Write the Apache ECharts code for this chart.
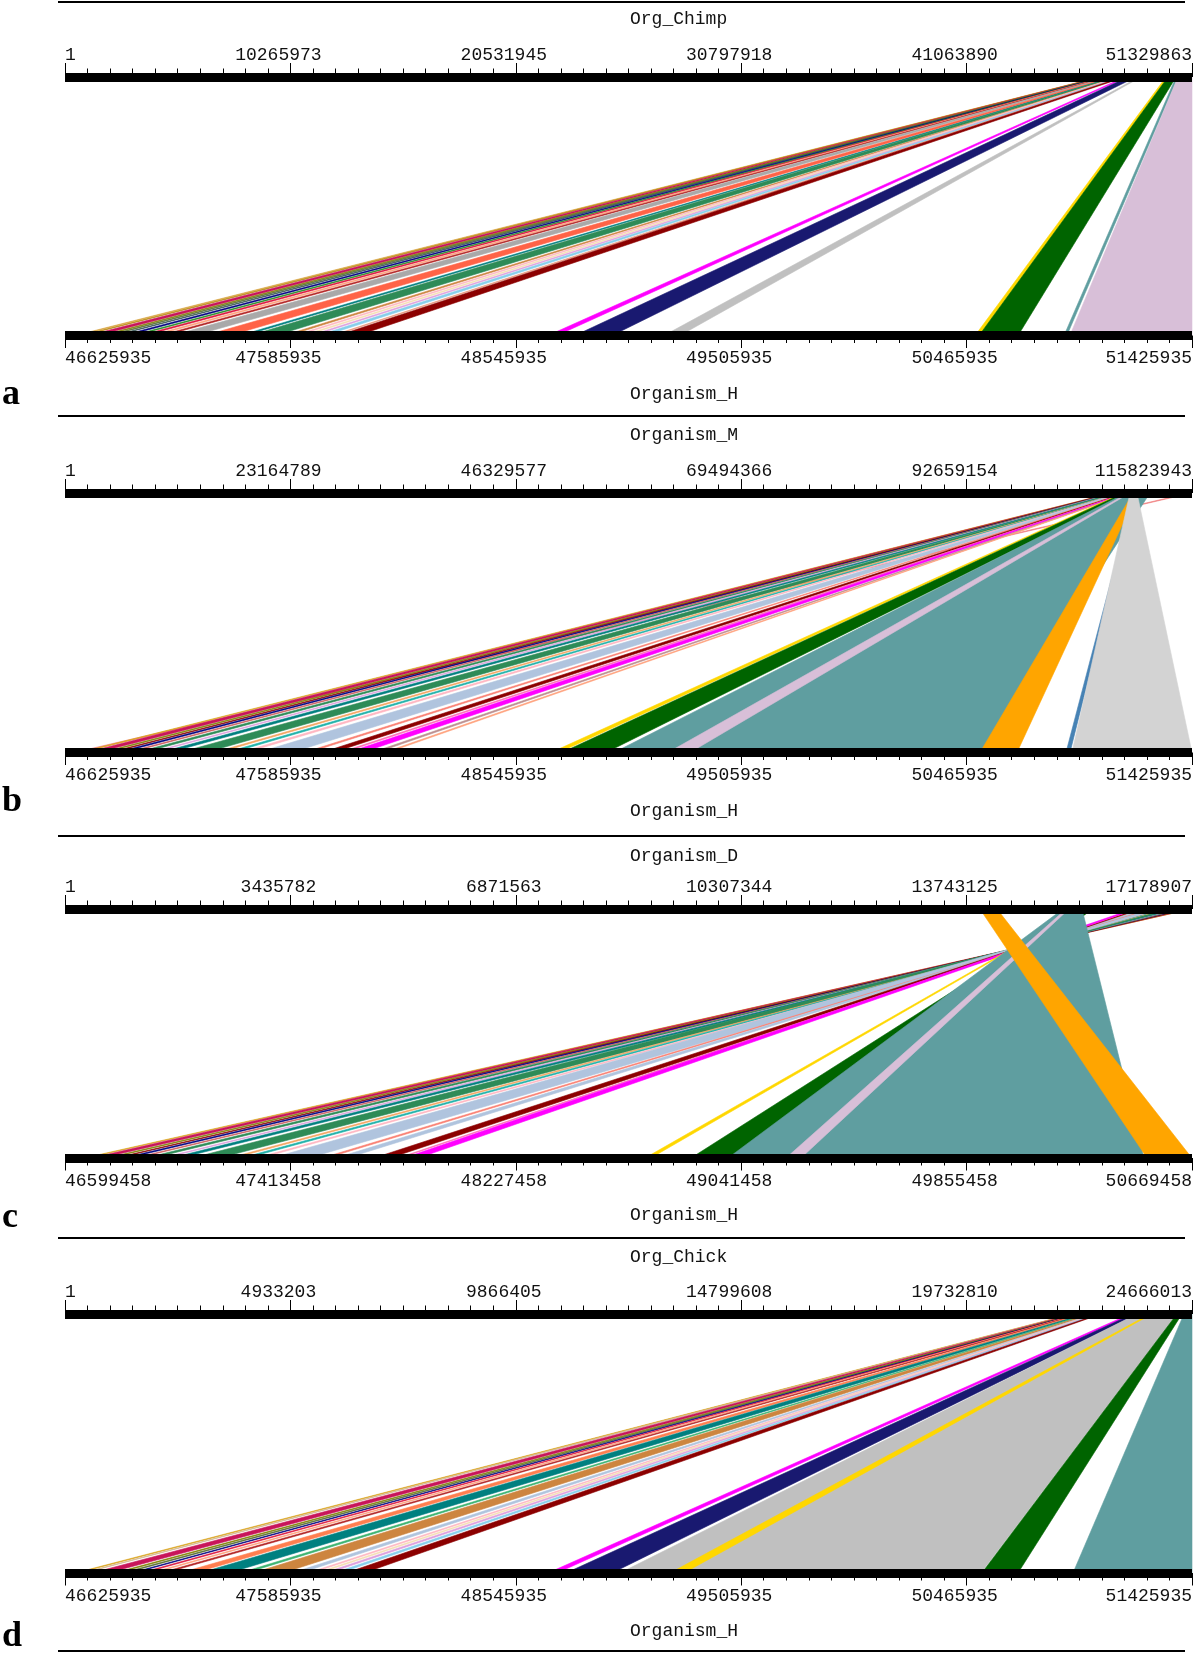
<!DOCTYPE html>
<html>
<head>
<meta charset="utf-8">
<title>Synteny comparison</title>
<script src="https://cdn.jsdelivr.net/npm/echarts@6.0.0/dist/echarts.min.js"></script>
<style>
html,body{margin:0;padding:0;background:#fff;}
#chart{width:1200px;height:1654px;}
</style>
</head>
<body>
<div id="chart"></div>
<script>
// ---------------- DATA ----------------
const panelLetters = ['a', 'b', 'c', 'd'];
const topNames = ['Org_Chimp', 'Organism_M', 'Organism_D', 'Org_Chick'];
const bottomNames = ['Organism_H', 'Organism_H', 'Organism_H', 'Organism_H'];
const topStart = [1, 1, 1, 1];
const topEnd = [51329863, 115823943, 17178907, 24666013];
const bottomStart = [46625935, 46625935, 46599458, 46625935];
const bottomEnd = [51425935, 51425935, 50669458, 51425935];
const topTickLabels = [
  ['1', '10265973', '20531945', '30797918', '41063890', '51329863'],
  ['1', '23164789', '46329577', '69494366', '92659154', '115823943'],
  ['1', '3435782', '6871563', '10307344', '13743125', '17178907'],
  ['1', '4933203', '9866405', '14799608', '19732810', '24666013']
];
const bottomTickLabels = [
  ['46625935', '47585935', '48545935', '49505935', '50465935', '51425935'],
  ['46625935', '47585935', '48545935', '49505935', '50465935', '51425935'],
  ['46599458', '47413458', '48227458', '49041458', '49855458', '50669458'],
  ['46625935', '47585935', '48545935', '49505935', '50465935', '51425935']
];

// Links (Mb): [topStart, topEnd, bottomStart, bottomEnd]
const linksA = [
  [47.117, 47.163, 46.6685, 46.6813],
  [47.140, 47.186, 46.6940, 46.7043],
  [47.163, 47.254, 46.7239, 46.7648],
  [47.222, 47.268, 46.7792, 46.7920],
  [47.250, 47.295, 46.8048, 46.8176],
  [47.277, 47.323, 46.8346, 46.8448],
  [47.300, 47.368, 46.8687, 46.8891],
  [47.350, 47.396, 46.9112, 46.9266],
  [47.386, 47.432, 46.9453, 46.9658],
  [47.427, 47.473, 46.9879, 47.0084],
  [47.468, 47.514, 47.0305, 47.0510],
  [47.523, 47.637, 47.0816, 47.1770],
  [47.659, 47.773, 47.2222, 47.3278],
  [47.791, 47.837, 47.3712, 47.3917],
  [47.841, 47.955, 47.4138, 47.5228],
  [47.969, 48.015, 47.5586, 47.5791],
  [48.005, 48.051, 47.6012, 47.6166],
  [48.037, 48.083, 47.6353, 47.6506],
  [48.069, 48.115, 47.6694, 47.6847],
  [48.106, 48.174, 47.7034, 47.7341],
  [48.164, 48.210, 47.7631, 47.7733],
  [48.187, 48.278, 47.7886, 47.8738],
  [48.278, 48.369, 48.6830, 48.7213],
  [48.415, 48.780, 48.7980, 48.9560],
  [48.916, 49.008, 49.1770, 49.2450],
  [50.146, 50.237, 50.5020, 50.5190],
  [50.237, 50.602, 50.5190, 50.6850],
  [50.602, 50.693, 50.8810, 50.8930],
  [50.693, 51.329, 50.9060, 51.4259]
];
const colorsA = ['#d9a441', '#b8860b', '#c8155a', '#808000', '#556b2f', '#2f4f4f', '#000080', '#228b22',
  '#dc143c', '#ffa07a', '#b22222', '#a9a9a9', '#ff6347', '#008080', '#2e8b57', '#cd853f', '#ffb6c1',
  '#f5deb3', '#dda0dd', '#87ceeb', '#e9967a', '#8b0000', '#ff00ff', '#191970', '#c0c0c0', '#ffd700',
  '#006400', '#5f9ea0', '#d8bfd8'];

const linksB = [
  [115.50, 115.80, 46.6642, 46.6813],
  [107.561, 107.664, 46.6855, 46.6983],
  [107.577, 107.782, 46.7153, 46.7631],
  [107.694, 107.797, 46.7792, 46.7946],
  [107.736, 107.839, 46.8133, 46.8261],
  [107.787, 107.890, 46.8431, 46.8636],
  [107.839, 107.941, 46.8857, 46.9010],
  [107.911, 108.034, 46.9283, 46.9590],
  [107.983, 108.086, 46.9879, 47.0033],
  [108.065, 108.188, 47.0305, 47.0688],
  [108.168, 108.414, 47.1157, 47.2247],
  [108.373, 108.476, 47.2605, 47.2810],
  [108.445, 108.568, 47.3116, 47.3372],
  [108.538, 108.640, 47.3712, 47.3968],
  [108.630, 108.938, 47.4479, 47.5910],
  [108.907, 109.010, 47.6438, 47.6643],
  [108.999, 109.164, 47.7205, 47.7682],
  [109.123, 109.225, 47.7971, 47.8125],
  [109.154, 109.360, 47.8312, 47.8926],
  [109.319, 109.422, 47.9334, 47.9539],
  [109.381, 109.483, 47.9845, 47.9999],
  [108.733, 108.835, 48.6958, 48.7298],
  [108.835, 109.247, 48.7426, 48.9300],
  [109.041, 111.508, 48.9641, 50.5271],
  [109.247, 109.452, 49.1941, 49.2878],
  [109.761, 110.172, 50.5229, 50.6805],
  [109.864, 109.966, 50.8892, 50.9062],
  [109.452, 110.172, 50.9147, 51.4259]
];
const colorsB = ['#f08080', '#daa520', '#c8155a', '#808000', '#8b0000', '#000080', '#cd5c5c', '#2e8b57',
  '#dda0dd', '#008080', '#2e8b57', '#f4a460', '#20b2aa', '#ffb6c1', '#b0c4de', '#fa8072', '#8b0000',
  '#ff69b4', '#ff00ff', '#bc8f8f', '#ffa07a', '#ffd700', '#006400', '#5f9ea0', '#d8bfd8', '#ffa500',
  '#4682b4', '#d3d3d3'];

const linksC = [
  [17.1656, 17.1780, 46.6681, 46.6790],
  [17.1257, 17.1603, 46.6934, 46.7309],
  [17.1043, 17.1203, 46.7476, 46.7606],
  [17.0830, 17.0964, 46.7801, 46.7909],
  [17.0537, 17.0750, 46.8090, 46.8263],
  [17.0298, 17.0458, 46.8487, 46.8617],
  [16.9819, 17.0165, 46.8884, 46.9166],
  [16.9580, 16.9740, 46.9462, 46.9592],
  [16.9074, 16.9473, 46.9823, 47.0148],
  [16.8010, 16.8914, 47.0581, 47.1563],
  [16.7717, 16.7929, 47.1918, 47.2091],
  [16.7344, 16.7610, 47.2351, 47.2568],
  [16.6998, 16.7211, 47.2893, 47.3066],
  [16.5560, 16.6786, 47.3471, 47.4800],
  [16.5242, 16.5455, 47.5276, 47.5449],
  [16.4710, 16.5082, 47.5782, 47.6186],
  [16.3538, 16.4071, 47.7154, 47.7732],
  [16.3326, 16.3432, 47.8021, 47.8107],
  [16.2792, 16.3272, 47.8238, 47.8758],
  [15.5021, 15.6698, 48.8602, 49.0300],
  [15.4870, 15.5021, 48.6941, 48.7150],
  [15.2125, 15.5021, 48.9939, 50.4962],
  [15.2582, 15.3039, 49.2033, 49.2575],
  [13.9473, 14.2065, 50.5070, 50.6690]
];
const colorsC = ['#daa520', '#c8155a', '#808000', '#8b0000', '#000080', '#cd5c5c', '#2e8b57', '#dda0dd',
  '#008080', '#2e8b57', '#f4a460', '#20b2aa', '#ffb6c1', '#b0c4de', '#fa8072', '#b0c4de', '#8b0000',
  '#ff69b4', '#ff00ff', '#006400', '#ffd700', '#5f9ea0', '#d8bfd8', '#ffa500'];

const linksD = [
  [22.0294, 22.0512, 46.6685, 46.6813],
  [22.0436, 22.0655, 46.6983, 46.7085],
  [22.0720, 22.1158, 46.7409, 46.8091],
  [22.1158, 22.1377, 46.8346, 46.8499],
  [22.1355, 22.1574, 46.8687, 46.8840],
  [22.1530, 22.1749, 46.9070, 46.9198],
  [22.1749, 22.1968, 46.9453, 46.9607],
  [22.1968, 22.2187, 46.9879, 47.0033],
  [22.2208, 22.2427, 47.0305, 47.0510],
  [22.2646, 22.3084, 47.1157, 47.1770],
  [22.3237, 22.3806, 47.2009, 47.3235],
  [22.4003, 22.4222, 47.3712, 47.3968],
  [22.4441, 22.4966, 47.4266, 47.5527],
  [22.5141, 22.5447, 47.5927, 47.6285],
  [22.5469, 22.5688, 47.6608, 47.6762],
  [22.5644, 22.5863, 47.6949, 47.7103],
  [22.5841, 22.6060, 47.7290, 47.7495],
  [22.6038, 22.6345, 47.7716, 47.7972],
  [22.6323, 22.6760, 47.8227, 47.8993],
  [23.3086, 23.3742, 48.6830, 48.7213],
  [23.3742, 23.4618, 48.7597, 48.9556],
  [23.4618, 24.3372, 48.9896, 50.5271],
  [23.7463, 23.7901, 49.2026, 49.2622],
  [24.3372, 24.4466, 50.5310, 50.6847],
  [24.4904, 24.6660, 50.9190, 51.4259]
];
const colorsD = ['#daa520', '#d2b48c', '#c8155a', '#808000', '#556b2f', '#000080', '#dc143c', '#ffa07a',
  '#b22222', '#ff7f50', '#008080', '#3cb371', '#cd853f', '#b0c4de', '#ffb6c1', '#f5deb3', '#dda0dd',
  '#87ceeb', '#8b0000', '#ff00ff', '#191970', '#c0c0c0', '#ffd700', '#006400', '#5f9ea0'];

const panelLinks = [linksA, linksB, linksC, linksD];
const panelColors = [colorsA, colorsB, colorsC, colorsD];

// ---------------- LAYOUT ----------------
const LAYOUT = [
  { sep: 2,    title: 19,   top: 77,   bottom: 335.5, btitle: 394,  letter: 395 },
  { sep: 416,  title: 435,  top: 493,  bottom: 752.5, btitle: 811,  letter: 802 },
  { sep: 836,  title: 856,  top: 909,  bottom: 1158,  btitle: 1215, letter: 1218 },
  { sep: 1238, title: 1257, top: 1314, bottom: 1573,  btitle: 1631, letter: 1637 }
];
const LAST_SEP = 1651;
const AX_LEFT = 65, AX_RIGHT = 8;
const MONO = 'Liberation Mono';
const FS = 18;
const MB = 1e6;

const chart = echarts.init(document.getElementById('chart'), null, { renderer: 'canvas' });

function topPixel(p, v, params) {
  let px;
  try { px = chart.convertToPixel({ xAxisIndex: 2 * p }, v); } catch (e) { px = undefined; }
  if (typeof px !== 'number' || !isFinite(px)) {
    const cs = params.coordSys;
    px = cs.x + cs.width * v / (topEnd[p] - topStart[p]);
  }
  return px;
}

function makeRenderItem(p) {
  return function (params, api) {
    const yTop = api.coord([0, 1])[1];
    const yBot = api.coord([0, 0])[1];
    const xb1 = api.coord([api.value(2), 0])[0];
    const xb2 = api.coord([api.value(3), 0])[0];
    const xt1 = topPixel(p, api.value(0), params);
    const xt2 = topPixel(p, api.value(1), params);
    const c = panelColors[p][params.dataIndex];
    return {
      type: 'polygon',
      shape: { points: [[xt1, yTop], [xt2, yTop], [xb2, yBot], [xb1, yBot]] },
      style: { fill: c, stroke: c, lineWidth: 0.6 },
      silent: true
    };
  };
}

function labelFormatter(labels, interval) {
  return function (v) {
    const i = Math.round(v / interval);
    const t = labels[i];
    return (i === 0 || i === labels.length - 1) ? '{e|' + t + '}' : '{m|' + t + '}';
  };
}
const labelRich = {
  m: { fontFamily: MONO, fontSize: FS, color: '#111', padding: [0, 24, 0, 0] },
  e: { fontFamily: MONO, fontSize: FS, color: '#111' }
};

const grids = [], xAxes = [], yAxes = [], series = [], graphics = [];

for (let p = 0; p < 4; p++) {
  const L = LAYOUT[p];
  grids.push({ left: AX_LEFT, right: AX_RIGHT, top: L.top, height: L.bottom - L.top,
    containLabel: false, outerBoundsMode: 'none', show: false });

  const topRange = topEnd[p] - topStart[p];
  const topInt = topRange / 5;
  const botRange = bottomEnd[p] - bottomStart[p];
  const botInt = botRange / 5;

  const common = {
    gridIndex: p, type: 'value', z: 10, silent: true,
    splitLine: { show: false }, minorSplitLine: { show: false },
    axisPointer: { show: false }
  };
  xAxes.push(Object.assign({}, common, {
    position: 'top', min: 0, max: topRange, interval: topInt,
    axisLine: { show: true, onZero: false, lineStyle: { color: '#000', width: 9, cap: 'butt' } },
    axisTick: { show: true, inside: false, length: 14, lineStyle: { color: '#000', width: 1 } },
    minorTick: { show: true, splitNumber: 10, length: 8.5, lineStyle: { color: '#000', width: 1 } },
    axisLabel: {
      show: true, margin: 13, fontFamily: MONO, fontSize: FS, color: '#111',
      showMinLabel: true, showMaxLabel: true, alignMinLabel: 'left', alignMaxLabel: 'right',
      formatter: labelFormatter(topTickLabels[p], topInt), rich: labelRich
    }
  }));
  xAxes.push(Object.assign({}, common, {
    position: 'bottom', min: 0, max: botRange, interval: botInt,
    axisLine: { show: true, onZero: false, lineStyle: { color: '#000', width: 9, cap: 'butt' } },
    axisTick: { show: true, inside: false, length: 12.5, lineStyle: { color: '#000', width: 1 } },
    minorTick: { show: true, splitNumber: 10, length: 7.5, lineStyle: { color: '#000', width: 1 } },
    axisLabel: {
      show: true, margin: 14, fontFamily: MONO, fontSize: FS, color: '#111',
      showMinLabel: true, showMaxLabel: true, alignMinLabel: 'left', alignMaxLabel: 'right',
      formatter: labelFormatter(bottomTickLabels[p], botInt), rich: labelRich
    }
  }));
  yAxes.push({ gridIndex: p, type: 'value', min: 0, max: 1, show: false });

  const data = panelLinks[p].map(l => [
    l[0] * MB - topStart[p], l[1] * MB - topStart[p],
    l[2] * MB - bottomStart[p], l[3] * MB - bottomStart[p]
  ]);
  series.push({
    type: 'custom', coordinateSystem: 'cartesian2d',
    xAxisIndex: 2 * p + 1, yAxisIndex: p, z: 2,
    data: data, silent: true, animation: false,
    renderItem: makeRenderItem(p)
  });

  graphics.push({ type: 'line', silent: true,
    shape: { x1: 58, y1: L.sep, x2: 1185, y2: L.sep }, style: { stroke: '#000', lineWidth: 2 } });
  graphics.push({ type: 'text', silent: true, x: 630, y: L.title,
    style: { text: topNames[p], font: FS + 'px "' + MONO + '"', fill: '#111', align: 'left', verticalAlign: 'middle' } });
  graphics.push({ type: 'text', silent: true, x: 630, y: L.btitle,
    style: { text: bottomNames[p], font: FS + 'px "' + MONO + '"', fill: '#111', align: 'left', verticalAlign: 'middle' } });
  graphics.push({ type: 'text', silent: true, x: 2, y: L.letter,
    style: { text: panelLetters[p], font: 'bold 36px "Liberation Serif"', fill: '#000', align: 'left', verticalAlign: 'middle' } });
}
graphics.push({ type: 'line', silent: true,
  shape: { x1: 58, y1: LAST_SEP, x2: 1185, y2: LAST_SEP }, style: { stroke: '#000', lineWidth: 2 } });

chart.setOption({
  animation: false,
  backgroundColor: '#fff',
  grid: grids,
  xAxis: xAxes,
  yAxis: yAxes,
  series: series,
  graphic: { elements: graphics }
});
</script>
</body>
</html>
